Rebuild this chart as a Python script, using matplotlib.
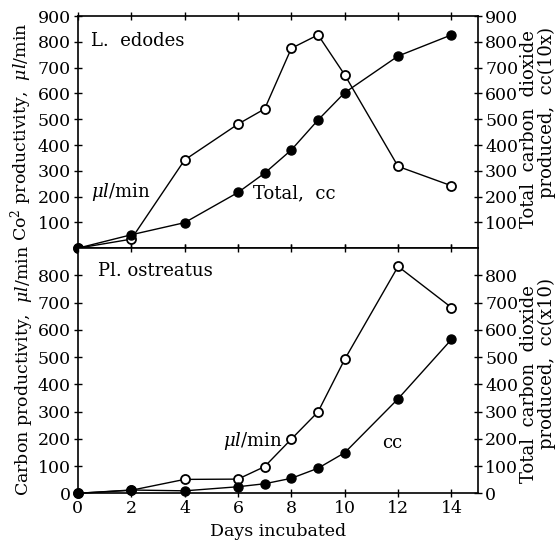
import matplotlib
matplotlib.use("Agg")
import matplotlib.pyplot as plt

plt.rcParams['font.family'] = ['DejaVu Serif']
plt.rcParams['mathtext.fontset'] = 'dejavuserif'

# L. edodes
days_le = [0, 2, 4, 6, 7, 8, 9, 10, 12, 14]
rate_le = [0, 35, 342, 481, 540, 775, 827, 672, 317, 242]
total_le = [0, 52, 99, 216, 291, 381, 497, 603, 745, 827]

# Pl. ostreatus
days_po = [0, 2, 4, 6, 7, 8, 9, 10, 12, 14]
rate_po = [0, 11, 51, 52, 98, 199, 299, 492, 833, 682]
total_po = [0, 12, 9, 24, 35, 55, 92, 149, 347, 565]

day_ticks = [0, 2, 4, 6, 8, 10, 12, 14]
top_ticks = [100, 200, 300, 400, 500, 600, 700, 800, 900]
bot_ticks = [0, 100, 200, 300, 400, 500, 600, 700, 800]

fig = plt.figure(figsize=(5.56, 5.54), dpi=100)
ax1 = fig.add_axes([0.140, 0.552, 0.720, 0.419])
ax2 = fig.add_axes([0.140, 0.1096, 0.720, 0.4424])

def style(ax, yticks):
    ax.set_xlim(0, 15)
    ax.set_ylim(0, 900)
    ax.set_xticks(day_ticks)
    ax.set_yticks(yticks)
    ax.tick_params(direction='inout', length=6, width=1, top=True, right=True,
                   labelright=True, labelsize=12.5, pad=2)
    for s in ax.spines.values():
        s.set_linewidth(1.2)

def draw(ax, days, rate, total):
    ax.plot(days, rate, color='black', lw=1, marker='o', ms=6.5,
            mfc='white', mec='black', mew=1.3, clip_on=False, zorder=3)
    ax.plot(days, total, color='black', lw=1, marker='o', ms=6.5,
            mfc='black', mec='black', clip_on=False, zorder=3)

draw(ax1, days_le, rate_le, total_le)
draw(ax2, days_po, rate_po, total_po)
style(ax1, top_ticks)
style(ax2, bot_ticks)
ax1.tick_params(labelbottom=False)

ax1.text(0.5, 805, 'L.  edodes', fontsize=13, va='center')
ax1.text(0.5, 218, r'$\mu l$/min', fontsize=13, va='center')
ax1.text(6.55, 214, 'Total,  cc', fontsize=13, va='center')

ax2.text(0.75, 818, 'Pl. ostreatus', fontsize=13, va='center')
ax2.text(5.43, 192, r'$\mu l$/min', fontsize=13, va='center')
ax2.text(11.4, 184, 'cc', fontsize=13, va='center')

ax1.set_ylabel(r'Co$^2$ productivity,  $\mu l$/min', fontsize=12.5, labelpad=3)
ax2.set_ylabel(r'Carbon productivity,  $\mu l$/min', fontsize=12.5, labelpad=3)
ax2.set_xlabel('Days incubated', fontsize=12.5, labelpad=4)

# right-hand axis titles, two lines offset like the original print
ax1.text(1.105, 0.513, 'Total  carbon  dioxide', transform=ax1.transAxes,
         rotation=90, fontsize=13, va='center', ha='left')
ax1.text(1.15, 0.586, 'produced,  cc(10x)', transform=ax1.transAxes,
         rotation=90, fontsize=13, va='center', ha='left')
ax2.text(1.105, 0.445, 'Total  carbon  dioxide', transform=ax2.transAxes,
         rotation=90, fontsize=13, va='center', ha='left')
ax2.text(1.15, 0.531, 'produced,  cc(x10)', transform=ax2.transAxes,
         rotation=90, fontsize=13, va='center', ha='left')

fig.savefig('out.png', dpi=100)
